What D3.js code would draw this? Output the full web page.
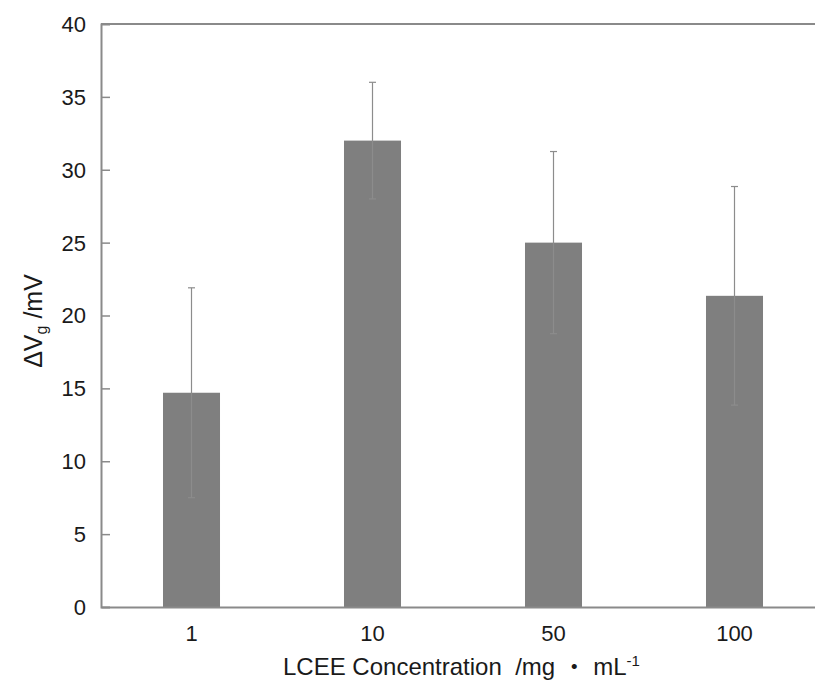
<!DOCTYPE html>
<html><head><meta charset="utf-8">
<script src="https://cdn.jsdelivr.net/npm/d3@7"></script>
<style>body{margin:0;background:#fff}svg{display:block}text{font-family:"Liberation Sans",Arial,sans-serif;white-space:pre}</style>
</head><body>
<svg id="c" width="815" height="682"></svg>
<script>
const categories = ["1","10","50","100"];
const values = [14.7, 32.0, 25.0, 21.35];
const errors = [7.2, 4.0, 6.25, 7.5];
const yTicks = [0,5,10,15,20,25,30,35,40];

const svg = d3.select("#c");
const mLeft = 101, mTop = 24, mBottom = 607, mRight = 825;
const x = d3.scaleBand().domain(categories).range([mLeft, mRight]).paddingInner(0.685).paddingOuter(0.3425);
const y = d3.scaleLinear().domain([0, 40]).range([mBottom, mTop]);
const axisCol = "#8a8a8a";
const textCol = "#1a1a1a";

// bars
svg.selectAll("rect.bar").data(values).join("rect")
  .attr("x", (d,i) => x(categories[i])).attr("width", x.bandwidth())
  .attr("y", d => y(d)).attr("height", d => y(0) - y(d))
  .attr("fill", "#7f7f7f");

// error bars
const eg = svg.append("g").attr("stroke", "#8c8c8c").attr("stroke-width", 1.2);
values.forEach((v,i) => {
  const cx = x(categories[i]) + x.bandwidth()/2;
  eg.append("line").attr("x1", cx).attr("x2", cx).attr("y1", y(v+errors[i])).attr("y2", y(v-errors[i]));
  eg.append("line").attr("x1", cx-3.5).attr("x2", cx+3.5).attr("y1", y(v+errors[i])).attr("y2", y(v+errors[i]));
  eg.append("line").attr("x1", cx-3.5).attr("x2", cx+3.5).attr("y1", y(v-errors[i])).attr("y2", y(v-errors[i]));
});

// frame top line
svg.append("line").attr("x1", mLeft).attr("x2", 815).attr("y1", mTop).attr("y2", mTop).attr("stroke", axisCol).attr("stroke-width", 2);

// y axis
const ya = svg.append("g").attr("transform", `translate(${mLeft},0)`)
  .call(d3.axisRight(y).tickValues(yTicks).tickSize(9).tickFormat(""));
ya.select(".domain").attr("stroke", axisCol).attr("stroke-width", 2);
ya.selectAll(".tick line").attr("stroke", axisCol).attr("stroke-width", 1.5);
ya.selectAll(".tick").filter(d => d === 0 || d === 40).select("line").remove();
svg.append("g").selectAll("text").data(yTicks).join("text")
  .attr("x", 86).attr("y", d => y(d)).attr("dy", "0.36em").attr("text-anchor", "end")
  .attr("font-size", 22).attr("fill", textCol).text(d => d);

// x axis
const xa = svg.append("g").attr("transform", `translate(0,${mBottom})`)
  .call(d3.axisBottom(x).tickSize(0).tickPadding(18));
xa.select(".domain").attr("stroke", axisCol).attr("stroke-width", 2);
xa.selectAll("text").attr("font-size", 22).attr("fill", textCol).attr("font-family", "Liberation Sans, Arial, sans-serif");

// x title
const xt = svg.append("text").attr("x", 283).attr("y", 675).attr("text-anchor", "start")
  .attr("font-size", 24).attr("fill", textCol);
xt.append("tspan").text("LCEE Concentration  /mg");
xt.append("tspan").attr("dx", 7).attr("font-family", "Noto Sans CJK JP").text("\u30FB");
xt.append("tspan").attr("dx", 7).text("mL");
xt.append("tspan").attr("font-size", 15).attr("dy", -9).text("-1");

// y title
const yt = svg.append("text").attr("transform", "translate(42,321) rotate(-90)").attr("text-anchor", "middle")
  .attr("font-size", 25).attr("fill", textCol);
yt.append("tspan").text("\u0394V");
yt.append("tspan").attr("font-size", 16).attr("dy", 5).text("g");
yt.append("tspan").attr("dy", -5).text(" /mV");
</script>
</body></html>
